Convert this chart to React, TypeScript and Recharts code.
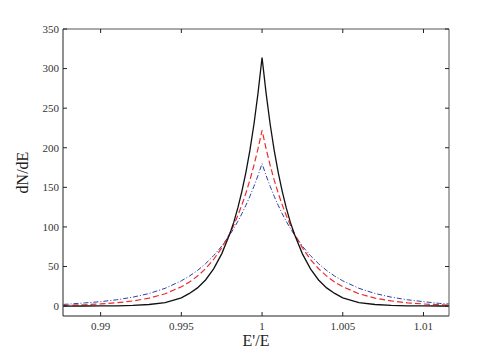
import React from 'react';
import { LineChart, Line, XAxis, YAxis, Label } from 'recharts';

const X_VALUES = [0.9877, 0.988, 0.989, 0.99, 0.991, 0.992, 0.993, 0.994, 0.995, 0.9955, 0.996, 0.9965, 0.997, 0.9975, 0.998, 0.99825, 0.9985, 0.99875, 0.999, 0.99925, 0.9995, 0.99975, 1, 1.00025, 1.0005, 1.00075, 1.001, 1.00125, 1.0015, 1.00175, 1.002, 1.0025, 1.003, 1.0035, 1.004, 1.0045, 1.005, 1.006, 1.007, 1.008, 1.009, 1.01, 1.011, 1.0116];

const BLACK = [0.04, 0.05, 0.1, 0.2, 0.4, 0.9, 2.0, 4.5, 10.5, 16, 23, 33, 47, 66, 91, 106, 124, 145, 169, 197, 230, 269, 314,
  269, 230, 197, 169, 145, 124, 106, 91, 66, 47, 33, 23, 16, 10.5, 4.5, 2.0, 0.9, 0.4, 0.2, 0.1, 0.07];

const RED = [1.0, 1.1, 1.7, 2.7, 4.2, 6.5, 10.1, 15.6, 24.4, 30.4, 37.9, 47.2, 58.9, 73.5, 91.7, 102.4, 114.4, 127.8, 142.7, 159.4, 178, 198.8, 222,
  198.8, 178, 159.4, 142.7, 127.8, 114.4, 102.4, 91.7, 73.5, 58.9, 47.2, 37.9, 30.4, 24.4, 15.6, 10.1, 6.5, 4.2, 2.7, 1.7, 1.3];

const BLUE = [2.2, 2.5, 4.0, 5.6, 8.0, 11.3, 15.9, 22.5, 31.9, 37.9, 45, 53.6, 63.7, 75.7, 90, 98.2, 107, 116.7, 127.3, 138.8, 151.4, 165, 180,
  165, 151.4, 138.8, 127.3, 116.7, 107, 98.2, 90, 75.7, 63.7, 53.6, 45, 37.9, 31.9, 22.5, 15.9, 11.3, 8.0, 5.6, 3.4, 2.6];

const X_TICKS = [0.99, 0.995, 1, 1.005, 1.01];
const X_TICK_LABELS = ['0.99', '0.995', '1', '1.005', '1.01'];
const Y_TICKS = [0, 50, 100, 150, 200, 250, 300, 350];

const X_DOMAIN = [0.98767, 1.01158];
const Y_DOMAIN = [-12.5, 350];

const data = X_VALUES.map((x, i) => ({ x, black: BLACK[i], red: RED[i], blue: BLUE[i] }));

const FONT = '"Liberation Serif", "DejaVu Serif", serif';
const TICK_LEN = 4;
const AXIS_COLOR = '#222';

const BottomTick = (props: any) => {
  const { x, y, payload } = props;
  const idx = X_TICKS.indexOf(payload.value);
  const label = idx >= 0 ? X_TICK_LABELS[idx] : String(payload.value);
  const axisY = y - 10;
  return (
    <g>
      <line x1={x} x2={x} y1={axisY} y2={axisY - TICK_LEN} stroke={AXIS_COLOR} strokeWidth={1} />
      <text x={x} y={axisY + 13.5} textAnchor="middle" fontSize={11} fontFamily={FONT} fill="#333">{label}</text>
    </g>
  );
};

const TopTick = (props: any) => {
  const { x, y } = props;
  return <line x1={x} x2={x} y1={y} y2={y + TICK_LEN} stroke={AXIS_COLOR} strokeWidth={1} />;
};

const LeftTick = (props: any) => {
  const { x, y, payload } = props;
  return (
    <g>
      <line x1={x} x2={x + TICK_LEN} y1={y} y2={y} stroke={AXIS_COLOR} strokeWidth={1} />
      <text x={x - 4} y={y + 3.8} textAnchor="end" fontSize={11} fontFamily={FONT} fill="#333">{payload.value}</text>
    </g>
  );
};

const RightTick = (props: any) => {
  const { x, y } = props;
  return <line x1={x} x2={x - TICK_LEN} y1={y} y2={y} stroke={AXIS_COLOR} strokeWidth={1} />;
};

const YLabel = (props: any) => {
  const vb = props.viewBox || { x: 0, y: 0, width: 63, height: 287 };
  const cx = vb.x + 22;
  const cy = vb.y + vb.height / 2;
  return (
    <text x={cx} y={cy} transform={`rotate(-90, ${cx}, ${cy})`} textAnchor="middle" dominantBaseline="central" fontSize={16} fontFamily={FONT} fill="#222">dN/dE</text>
  );
};

const XLabel = (props: any) => {
  const vb = props.viewBox || { x: 63, y: 316, width: 386, height: 30 };
  const cx = vb.x + vb.width / 2;
  return (
    <text x={cx} y={vb.y + 30} textAnchor="middle" fontSize={16} fontFamily={FONT} fill="#222">E'/E</text>
  );
};

export default function App() {
  return (
    <div style={{ position: 'absolute', left: 0, top: 0, width: 498, height: 352, background: '#fff' }}>
      <LineChart width={498} height={352} data={data} margin={{ top: 28, right: 48, bottom: 6, left: 0 }}>
        <XAxis
          xAxisId="b"
          dataKey="x"
          type="number"
          domain={X_DOMAIN}
          allowDataOverflow
          ticks={X_TICKS}
          interval={0}
          orientation="bottom"
          height={30}
          tickSize={0}
          tickMargin={10}
          tickLine={false}
          tick={<BottomTick />}
          axisLine={{ stroke: AXIS_COLOR, strokeWidth: 1 }}
        >
          <Label content={<XLabel />} />
        </XAxis>
        <XAxis
          xAxisId="t"
          dataKey="x"
          type="number"
          domain={X_DOMAIN}
          allowDataOverflow
          ticks={X_TICKS}
          interval={0}
          orientation="top"
          height={1}
          tickSize={0}
          tickMargin={0}
          tickLine={false}
          tick={<TopTick />}
          axisLine={{ stroke: '#555', strokeWidth: 1 }}
        />
        <YAxis
          yAxisId="l"
          type="number"
          domain={Y_DOMAIN}
          allowDataOverflow
          ticks={Y_TICKS}
          interval={0}
          orientation="left"
          width={63}
          tickSize={0}
          tickMargin={0}
          tickLine={false}
          tick={<LeftTick />}
          axisLine={{ stroke: AXIS_COLOR, strokeWidth: 1 }}
        >
          <Label content={<YLabel />} />
        </YAxis>
        <YAxis
          yAxisId="r"
          type="number"
          domain={Y_DOMAIN}
          allowDataOverflow
          ticks={Y_TICKS}
          interval={0}
          orientation="right"
          width={1}
          tickSize={0}
          tickMargin={0}
          tickLine={false}
          tick={<RightTick />}
          axisLine={{ stroke: '#555', strokeWidth: 1 }}
        />
        <Line xAxisId="b" yAxisId="l" type="linear" dataKey="blue" stroke="#2a3fa8" strokeWidth={1} strokeDasharray="5 2 1 2" dot={false} isAnimationActive={false} />
        <Line xAxisId="b" yAxisId="l" type="linear" dataKey="red" stroke="#ee2b2b" strokeWidth={1.2} strokeDasharray="6 3" dot={false} isAnimationActive={false} />
        <Line xAxisId="b" yAxisId="l" type="linear" dataKey="black" stroke="#111" strokeWidth={1.3} dot={false} isAnimationActive={false} />
      </LineChart>
    </div>
  );
}
